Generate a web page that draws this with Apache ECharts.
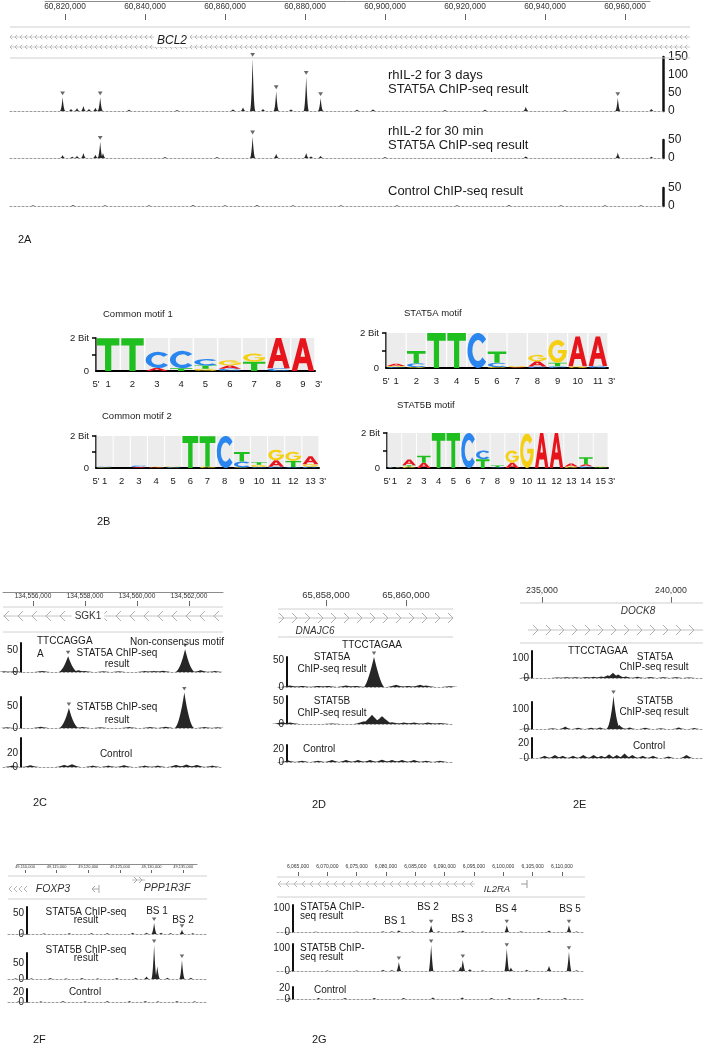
<!DOCTYPE html>
<html><head><meta charset="utf-8">
<script src="https://cdn.jsdelivr.net/npm/echarts@6/dist/echarts.min.js"></script>
<style>html,body{margin:0;padding:0;background:#fff}#c{width:708px;height:1053px}</style>
</head><body><div id="c"></div>
<script>
// ======================= DATA =======================
// ---- 2A : BCL2 locus (chr position, signal, peak-marker flag) ----
const bcl2Ticks = [60820000,60840000,60860000,60880000,60900000,60920000,60940000,60960000];
const bcl2Day3 = [
  [60819400,38,1],[60821500,6,0],[60823000,8,0],[60824600,14,0],[60826000,6,0],[60827600,9,0],
  [60828800,38,1],[60836000,4,0],[60848000,3,0],[60862000,5,0],[60864500,10,0],[60866900,145,1],
  [60869500,6,0],[60872800,55,1],[60876500,5,0],[60880300,95,1],[60883900,36,1],[60893000,4,0],
  [60897000,5,0],[60915000,3,0],[60925000,4,0],[60935200,12,0],[60945000,3,0],[60958200,36,1],[60966600,6,0]
];
const bcl2Min30 = [
  [60819400,8,0],[60821800,4,0],[60823000,6,0],[60824600,14,0],[60827600,9,0],[60828800,45,1],
  [60829500,14,0],[60845000,3,0],[60858000,3,0],[60866900,60,1],[60872800,12,0],[60880300,14,0],
  [60881500,5,0],[60883900,6,0],[60900000,3,0],[60935200,5,0],[60958200,15,0],[60966600,4,0]
];
const bcl2Ctrl = [
  [60812000,2,0],[60822000,3,0],[60830000,2,0],[60841000,2,0],[60852000,3,0],[60860000,2,0],
  [60868000,3,0],[60877000,2,0],[60889000,2,0],[60903000,2,0],[60918000,2,0],[60931000,3,0],
  [60944000,2,0],[60955000,2,0],[60964000,2,0]
];
const bcl2Day3Scale = [0,50,100,150];
const bcl2Min30Scale = [0,50];
const bcl2CtrlScale = [0,50];

// ---- 2B : sequence logos, columns bottom->top as [base, bits] ----
const motifCommon1 = [
  [['T',1.98]], [['T',1.98]], [['A',0.18],['C',0.98]], [['T',0.16],['C',1.06]],
  [['G',0.14],['T',0.2],['C',0.38]], [['C',0.14],['A',0.2],['G',0.3]],
  [['T',0.56],['G',0.5]], [['C',0.16],['A',1.84]], [['A',1.98]]
];
const motifStat5a = [
  [['C',0.06],['G',0.06],['A',0.12]], [['G',0.05],['C',0.22],['T',0.7]], [['T',2.0]], [['T',2.0]],
  [['C',2.0]], [['G',0.06],['C',0.24],['T',0.64]], [['A',0.05],['G',0.06]],
  [['C',0.08],['A',0.3],['G',0.36]], [['C',0.1],['T',0.2],['G',1.3]], [['G',0.1],['A',1.7]], [['C',0.12],['A',1.68]]
];
const motifCommon2 = [
  [['G',0.04],['C',0.04]], [], [['A',0.06],['C',0.1]], [['A',0.04],['G',0.03]], [['C',0.05],['G',0.05]],
  [['T',2.0]], [['G',0.08],['T',1.9]], [['C',2.0]], [['G',0.04],['C',0.36],['T',0.6]],
  [['C',0.06],['G',0.14],['T',0.16]], [['C',0.08],['A',0.4],['G',0.66]], [['C',0.06],['T',0.38],['G',0.58]],
  [['C',0.08],['G',0.16],['A',0.5]]
];
const motifStat5b = [
  [['G',0.03],['C',0.03]], [['G',0.08],['T',0.08],['A',0.32]], [['A',0.3],['T',0.4]], [['T',2.0]], [['T',2.0]],
  [['C',2.0]], [['T',0.5],['C',0.5]], [['C',0.04],['T',0.1]], [['A',0.3],['G',0.7]], [['G',1.96]],
  [['A',2.0]], [['A',2.0]], [['G',0.08],['A',0.18]], [['C',0.1],['A',0.12],['T',0.4]], [['T',0.04],['G',0.03]]
];

// ---- 2C : SGK1 ----
const sgk1Ticks = [134556000,134558000,134560000,134562000];
const sgk1Stat5a = [
  [134554900,1.5,0],[134555300,2,0],[134556350,2.5,0],[134557350,36,1],[134557750,4,0],[134558000,2,0],
  [134558700,1.5,0],[134559300,1.5,0],[134560300,2,0],[134560650,2.5,0],[134561000,3,0],[134561850,52,1],
  [134562450,4,0],[134563000,2,0]
];
const sgk1Stat5b = [
  [134555000,1.5,0],[134556300,3,0],[134557380,45,1],[134557900,2,0],[134558600,1.5,0],[134559700,2,0],
  [134560500,2,0],[134561100,3,0],[134561820,80,1],[134562600,2,0],[134563100,1.5,0]
];
const sgk1Ctrl = [
  [134555200,2,0],[134555900,2.5,0],[134557200,3,0],[134557500,4,0],[134558300,2,0],[134558900,2,0],
  [134559500,2.5,0],[134560300,2,0],[134560800,2,0],[134561500,3,0],[134561900,3.5,0],[134562300,3,0],[134562900,2,0]
];
// ---- 2D : DNAJC6 ----
const dnajTicks = [65858000,65860000];
const dnajStat5a = [
  [65857100,3,0],[65857400,2,0],[65857800,2,0],[65858050,2,0],[65858500,3,0],[65858750,2,0],
  [65859200,56,1],[65859750,4,0],[65860050,2,0],[65860350,4,0],[65860500,3,0],[65861100,1.5,0]
];
const dnajStat5b = [
  [65856900,4,0],[65857100,3,0],[65858150,1,0],[65858950,6,0],[65859150,20,0],[65859400,17,0],
  [65859650,4,0],[65859950,3,0],[65860200,3,0],[65860550,3,0],[65860850,2,0]
];
const dnajCtrl = [
  [65857050,2.5,0],[65857400,2,0],[65857800,2,0],[65858150,3,0],[65858500,3,0],[65858800,3,0],[65859100,3,0],
  [65859400,3.5,0],[65859650,3,0],[65859900,3,0],[65860200,3,0],[65860500,2,0],[65860850,2,0]
];
// ---- 2E : DOCK8 ----
const dockTicks = [235000,240000];
const dockStat5a = [
  [234400,4,0],[235600,3,0],[235950,4,0],[236300,4,0],[236700,5,0],[237000,6,0],[237300,8,0],[237550,14,0],
  [237750,26,0],[237950,18,0],[238250,8,0],[238700,6,0],[239200,5,0],[239700,4,0],[240200,4,0],[240700,3,0]
];
const dockStat5b = [
  [234400,4,0],[235400,4,0],[235900,12,0],[236400,6,0],[236900,6,0],[237250,8,0],[237770,165,1],
  [238000,20,0],[238400,8,0],[239000,6,0],[239600,4,0],[240300,8,0],[240900,5,0]
];
const dockCtrl = [
  [235100,3,0],[235500,4,0],[235800,3,0],[236200,3,0],[236600,4,0],[237000,4,0],[237300,3,0],[237600,5,0],
  [237900,4,0],[238200,6,0],[238500,4,0],[238900,3,0],[239300,3,0],[239900,2,0],[240600,4,0]
];
// ---- 2F : FOXP3 / PPP1R3F ----
const foxTicks = [49110000,49115000,49120000,49125000,49130000,49135000];
const foxStat5a = [
  [49109500,1.5,0],[49113000,1.5,0],[49117000,2,0],[49120500,2,0],[49123000,2,0],[49127000,3,0],
  [49129200,3,0],[49130400,26,1],[49131500,3,0],[49133000,2,0],[49134800,10,1],[49136500,2,0]
];
const foxStat5b = [
  [49108500,2,0],[49111000,2,0],[49114000,3,0],[49116500,2,0],[49119000,3,0],[49121500,2,0],[49124500,3,0],
  [49127500,4,0],[49129200,8,0],[49130400,106,1],[49130900,40,0],[49132500,4,0],[49134800,59,1],[49136200,4,0]
];
const foxCtrl = [
  [49109000,1.5,0],[49112500,1.5,0],[49116000,2,0],[49119500,1.5,0],[49123000,2,0],[49126500,2,0],
  [49129000,2,0],[49131000,1.5,0],[49134000,2,0],[49136800,1.5,0]
];
// ---- 2G : IL2RA ----
const il2Ticks = [6065000,6070000,6075000,6080000,6085000,6090000,6095000,6100000,6105000,6110000];
const il2Stat5a = [
  [6063000,1,0],[6068000,1.5,0],[6075000,1.5,0],[6079500,3,0],[6081000,3,0],[6082200,7,0],[6084500,2,0],
  [6087700,28,1],[6089000,3,0],[6092500,3,0],[6093100,6,0],[6096500,2,0],[6100600,28,1],[6103000,3,0],
  [6107800,6,0],[6111200,28,1],[6112500,2,0]
];
const il2Stat5b = [
  [6064000,2,0],[6070000,2,0],[6075000,2,0],[6079500,5,0],[6081000,4,0],[6082200,39,1],[6087700,113,1],
  [6091500,3,0],[6092700,18,0],[6093100,48,1],[6094300,8,0],[6096500,3,0],[6100600,96,1],[6101300,15,0],
  [6104000,5,0],[6107800,22,0],[6111200,83,1],[6112500,3,0]
];
const il2Ctrl = [
  [6063500,2,0],[6068500,2,0],[6073000,2,0],[6078000,2,0],[6083000,2,0],[6088000,3,0],[6093000,3,0],
  [6098000,2,0],[6101000,2,0],[6106000,2,0],[6110500,2,0]
];

// ======================= BUILD =======================
const FONT = '"Liberation Sans", Arial, Helvetica, sans-serif';
const grids = [], xAxes = [], yAxes = [], series = [], graphics = [];
const fmt = v => Number(v).toLocaleString('en-US');

function addGrid(l, t, w, h) { grids.push({left: l, top: t, width: w, height: h, containLabel: false}); return grids.length - 1; }

function ruler(o) {
  const gi = addGrid(o.left, o.top, o.width, o.height);
  xAxes.push({gridIndex: gi, type: 'value', min: o.min, max: o.max, position: 'top',
    axisLine: {show: !!o.line, onZero: false, lineStyle: {color: '#8c8c8c', width: 1}},
    axisTick: {show: false}, splitLine: {show: false},
    axisLabel: {inside: true, customValues: o.ticks, fontSize: o.fs, fontFamily: FONT, color: '#333',
      margin: o.margin || 1, formatter: fmt}});
  xAxes.push({gridIndex: gi, type: 'value', min: o.min, max: o.max, position: 'bottom',
    axisLine: {show: false, onZero: false}, axisLabel: {show: false}, splitLine: {show: false},
    axisTick: {show: true, inside: true, length: o.tickLen || 5, customValues: o.ticks, lineStyle: {color: '#666', width: 1}}});
  yAxes.push({gridIndex: gi, type: 'value', min: 0, max: 1, show: false});
}

function peakRenderer(hw, pow, mkSize) {
  return function (params, api) {
    const pos = api.value(0), h = api.value(1), mk = api.value(2);
    const pts = [];
    const N = 8;
    for (let i = -N; i <= N; i++) {
      const t = i / N;
      pts.push(api.coord([pos + t * hw, h * Math.pow(1 - Math.abs(t), pow)]));
    }
    const children = [{type: 'polygon', shape: {points: pts}, style: {fill: '#262626'}}];
    if (mk) {
      const top = api.coord([pos, h]);
      const s = mkSize;
      children.push({type: 'polygon', shape: {points: [[top[0] - s, top[1] - 2 - 1.6 * s], [top[0] + s, top[1] - 2 - 1.6 * s], [top[0], top[1] - 2]]},
        style: {fill: '#6a6a6a'}});
    }
    return {type: 'group', children};
  };
}

function track(o) {
  const gi = addGrid(o.left, o.top, o.width, o.height);
  const xi = xAxes.length;
  xAxes.push({gridIndex: gi, type: 'value', min: o.min, max: o.max, position: 'bottom',
    axisLine: {show: true, onZero: false, lineStyle: {color: '#9a9a9a', type: [2, 2], width: 1}},
    axisTick: {show: false}, axisLabel: {show: false}, splitLine: {show: false}});
  const yi = yAxes.length;
  yAxes.push({gridIndex: gi, type: 'value', min: 0, max: o.yMax, position: o.side, offset: o.offset || 0,
    axisLine: {show: true, onZero: false, lineStyle: {color: '#111', width: o.barW || 2}},
    axisTick: {show: false}, splitLine: {show: false},
    axisLabel: {customValues: o.labels, fontSize: o.fs, fontFamily: FONT, color: '#222', margin: o.lm || 3}});
  series.push({type: 'custom', xAxisIndex: xi, yAxisIndex: yi, clip: false, silent: true,
    data: o.peaks, renderItem: peakRenderer(o.hw, o.pow, o.mk || 2.2)});
}

const LETTER_PATH = [
  'M0 100 L38 0 L62 0 L100 100 L76 100 L67 76 L33 76 L24 100 Z M40 56 L60 56 L50 26 Z',        // A
  'M87 18 A48 50 0 1 0 87 82 L70 69 A26 30 0 1 1 70 31 Z',                                       // C
  'M87 18 A48 50 0 1 0 98 55 L98 44 L52 44 L52 58 L76 58 A27 30 0 1 1 70 31 Z',                 // G
  'M0 0 L100 0 L100 22 L64 22 L64 100 L36 100 L36 22 L0 22 Z'                                    // T
];
const LETTER_COLOR = ['#e8141c', '#2a86ee', '#f5cf12', '#1fbf1f'];

function logo(o, cols) {
  const n = cols.length;
  const gi = addGrid(o.left, o.top, o.width, o.height);
  const xi = xAxes.length, yi = yAxes.length;
  const pos = cols.map((c, i) => i + 1);
  xAxes.push({gridIndex: gi, type: 'value', min: 0.5, max: n + 0.5,
    axisLine: {onZero: false, lineStyle: {color: '#000', width: 2}}, axisTick: {show: false}, splitLine: {show: false},
    axisLabel: {customValues: [0.5].concat(pos, [n + 0.5]), fontSize: 9.5, fontFamily: FONT, color: '#222', margin: 8,
      alignMaxLabel: 'left', formatter: v => v === 0.5 ? "5'" : (v === n + 0.5 ? "3'" : String(v))}});
  yAxes.push({gridIndex: gi, type: 'value', min: 0, max: 2,
    axisLine: {onZero: false, lineStyle: {color: '#000', width: 1.5}},
    axisTick: {show: true, length: 4, customValues: [1, 2], lineStyle: {color: '#000', width: 1.5}}, splitLine: {show: false},
    axisLabel: {customValues: [0, 2], fontSize: 9.5, fontFamily: FONT, color: '#222', margin: 7,
      formatter: v => v === 2 ? '2 Bit' : '0'}});
  series.push({type: 'custom', xAxisIndex: xi, yAxisIndex: yi, silent: true, z: 1,
    data: pos.map(p => [p]),
    renderItem: (params, api) => {
      const c = api.value(0);
      const a = api.coord([c - 0.47, 2]), b = api.coord([c + 0.47, 0]);
      return {type: 'rect', shape: {x: a[0], y: a[1], width: b[0] - a[0], height: b[1] - a[1] - 1}, style: {fill: '#ececec'}};
    }});
  const stacks = [];
  cols.forEach((col, i) => { let y = 0; col.forEach(([L, b]) => { stacks.push([i + 1, y, y + b, 'ACGT'.indexOf(L)]); y += b; }); });
  series.push({type: 'custom', xAxisIndex: xi, yAxisIndex: yi, silent: true, z: 3, clip: false,
    data: stacks,
    renderItem: (params, api) => {
      const c = api.value(0), y0 = api.value(1), y1 = api.value(2), li = api.value(3);
      const a = api.coord([c - 0.46, y1]), b = api.coord([c + 0.46, y0]);
      return {type: 'path', shape: {pathData: LETTER_PATH[li], x: a[0], y: a[1], width: b[0] - a[0], height: Math.max(0.3, b[1] - a[1]), layout: 'cover'},
        style: {fill: LETTER_COLOR[li]}};
    }});
  txt(o.title, o.tx, o.ty, {fs: 9.5});
}

function txt(s, x, y, o) {
  o = o || {};
  const style = {text: s, font: (o.italic ? 'italic ' : '') + (o.bold ? 'bold ' : '') + (o.fs || 10) + 'px ' + FONT,
    fill: o.color || '#1a1a1a', align: o.align || 'left', textAlign: o.align || 'left',
    verticalAlign: 'middle', textVerticalAlign: 'middle'};
  if (o.bg) { style.backgroundColor = o.bg; style.padding = [0, 3]; }
  graphics.push({type: 'text', x: x, y: y, z: 100, silent: true, style});
}
function hline(x0, x1, y, color, lw) {
  graphics.push({type: 'line', silent: true, z: 5, shape: {x1: x0, y1: y, x2: x1, y2: y}, style: {stroke: color || '#c8c8c8', lineWidth: lw || 1}});
}
function chevrons(x0, x1, y, step, s, dir, color) {
  for (let x = x0; x <= x1 - s; x += step) {
    const pts = dir === '<' ? [[x + s, y - s], [x, y], [x + s, y + s]] : [[x, y - s], [x + s, y], [x, y + s]];
    graphics.push({type: 'polyline', silent: true, z: 6, shape: {points: pts}, style: {stroke: color || '#b5b5b5', lineWidth: 1, fill: null}});
  }
}

// ---------- 2A ----------
const A_BP = 250; // bp per px
ruler({left: 45, top: 1, width: 605, height: 19, min: 60820000 - 20 * A_BP, max: 60820000 + 585 * A_BP,
  ticks: bcl2Ticks, fs: 8.3, line: true, tickLen: 6, margin: 2});
const aMin = 60820000 - 55 * A_BP, aMax = 60820000 + 598 * A_BP;
track({left: 10, top: 57, width: 653, height: 54, min: aMin, max: aMax, yMax: 150, labels: bcl2Day3Scale,
  side: 'right', fs: 12, lm: 5, barW: 2.5, peaks: bcl2Day3, hw: 700, pow: 2.2, mk: 2.4});
track({left: 10, top: 140, width: 653, height: 18, min: aMin, max: aMax, yMax: 50, labels: bcl2Min30Scale,
  side: 'right', fs: 12, lm: 5, barW: 2.5, peaks: bcl2Min30, hw: 700, pow: 2.2, mk: 2.4});
track({left: 10, top: 188, width: 653, height: 18, min: aMin, max: aMax, yMax: 50, labels: bcl2CtrlScale,
  side: 'right', fs: 12, lm: 5, barW: 2.5, peaks: bcl2Ctrl, hw: 700, pow: 2.2});
hline(10, 690, 27, '#cfcfcf'); hline(10, 690, 58, '#cfcfcf');
hline(10, 690, 37, '#d0d0d0'); hline(10, 690, 47, '#d0d0d0');
chevrons(10, 688, 37, 5, 2.2, '<', '#b8b8b8');
chevrons(10, 688, 47, 5, 2.2, '<', '#b8b8b8');
txt('BCL2', 172, 41, {fs: 12, italic: true, bg: '#fff', align: 'center'});
txt('rhIL-2 for 3 days', 388, 75, {fs: 13});
txt('STAT5A ChIP-seq result', 388, 89, {fs: 13});
txt('rhIL-2 for 30 min', 388, 131, {fs: 13});
txt('STAT5A ChIP-seq result', 388, 145, {fs: 13});
txt('Control ChIP-seq result', 388, 191, {fs: 13});
txt('2A', 18, 240, {fs: 11});

// ---------- 2B ----------
logo({left: 96, top: 338, width: 219, height: 33, title: 'Common motif 1', tx: 103, ty: 314}, motifCommon1);
logo({left: 386, top: 333, width: 222, height: 35, title: 'STAT5A motif', tx: 404, ty: 313}, motifStat5a);
logo({left: 96, top: 436, width: 223, height: 32, title: 'Common motif 2', tx: 102, ty: 416}, motifCommon2);
logo({left: 387, top: 433, width: 221, height: 35, title: 'STAT5B motif', tx: 397, ty: 405}, motifStat5b);
txt('2B', 97, 522, {fs: 11});

// ---------- 2C SGK1 ----------
const C_BP = 38.46;
const cMin = 134556000 - 30 * C_BP, cMax = 134556000 + 190 * C_BP;
ruler({left: 3, top: 592, width: 220, height: 14, min: cMin, max: cMax, ticks: sgk1Ticks, fs: 6.6, line: true, tickLen: 5, margin: 1});
hline(3, 223, 607, '#d0d0d0'); hline(3, 223, 616, '#c4c4c4'); hline(3, 223, 632, '#d0d0d0');
chevrons(4, 223, 616, 14, 5, '<', '#b0b0b0');
txt('SGK1', 88, 616, {fs: 10, bg: '#fff', align: 'center', color: '#333'});
track({left: 3, top: 643, width: 220, height: 29, min: cMin, max: cMax, yMax: 66, labels: [0, 50], side: 'left', offset: -18,
  fs: 10, lm: 3, peaks: sgk1Stat5a, hw: 380, pow: 1.8});
track({left: 3, top: 697, width: 220, height: 31, min: cMin, max: cMax, yMax: 70, labels: [0, 50], side: 'left', offset: -18,
  fs: 10, lm: 3, peaks: sgk1Stat5b, hw: 380, pow: 1.8});
track({left: 3, top: 738, width: 220, height: 29, min: cMin, max: cMax, yMax: 41, labels: [0, 20], side: 'left', offset: -18,
  fs: 10, lm: 3, peaks: sgk1Ctrl, hw: 380, pow: 1.8});
txt('TTCCAGGA', 37, 641, {fs: 10});
txt('A', 37, 654, {fs: 10});
txt('STAT5A ChIP-seq', 117, 653, {fs: 10, align: 'center'});
txt('result', 117, 664, {fs: 10, align: 'center'});
txt('Non-consensus motif', 130, 642, {fs: 10});
txt('STAT5B ChIP-seq', 117, 707, {fs: 10, align: 'center'});
txt('result', 117, 720, {fs: 10, align: 'center'});
txt('Control', 116, 754, {fs: 10, align: 'center'});
txt('2C', 33, 803, {fs: 11});

// ---------- 2D DNAJC6 ----------
const D_BP = 25;
const dMin = 65858000 - 48 * D_BP, dMax = 65858000 + 127 * D_BP;
ruler({left: 278, top: 589, width: 175, height: 17, min: dMin, max: dMax, ticks: dnajTicks, fs: 9.5, line: false, tickLen: 6, margin: 1});
hline(278, 453, 609, '#cfcfcf'); hline(278, 453, 618, '#c4c4c4'); hline(278, 453, 637, '#cfcfcf');
chevrons(279, 453, 618, 13, 5, '>', '#b0b0b0');
txt('DNAJC6', 315, 631, {fs: 10, italic: true, align: 'center', color: '#333'});
track({left: 278, top: 657, width: 175, height: 30, min: dMin, max: dMax, yMax: 56, labels: [0, 50], side: 'left', offset: -9,
  fs: 10, lm: 3, peaks: dnajStat5a, hw: 250, pow: 1.4});
track({left: 278, top: 696, width: 175, height: 28, min: dMin, max: dMax, yMax: 61, labels: [0, 50], side: 'left', offset: -9,
  fs: 10, lm: 3, peaks: dnajStat5b, hw: 250, pow: 1.2});
track({left: 278, top: 745, width: 175, height: 17, min: dMin, max: dMax, yMax: 26, labels: [0, 20], side: 'left', offset: -9,
  fs: 10, lm: 3, peaks: dnajCtrl, hw: 200, pow: 1.4});
txt('TTCCTAGAA', 372, 645, {fs: 10, align: 'center'});
txt('STAT5A', 332, 657, {fs: 10, align: 'center'});
txt('ChIP-seq result', 332, 669, {fs: 10, align: 'center'});
txt('STAT5B', 332, 701, {fs: 10, align: 'center'});
txt('ChIP-seq result', 332, 713, {fs: 10, align: 'center'});
txt('Control', 303, 749, {fs: 10});
txt('2D', 312, 805, {fs: 11});

// ---------- 2E DOCK8 ----------
const E_BP = 38.76;
const eMin = 235000 - 22 * E_BP, eMax = 235000 + 161 * E_BP;
ruler({left: 520, top: 585, width: 183, height: 18, min: eMin, max: eMax, ticks: dockTicks, fs: 8.8, line: false, tickLen: 6, margin: 1});
hline(520, 703, 603, '#cfcfcf'); hline(528, 703, 630, '#c4c4c4'); hline(520, 703, 643, '#cfcfcf');
chevrons(533, 703, 630, 13, 5, '>', '#b0b0b0');
txt('DOCK8', 638, 611, {fs: 10, italic: true, align: 'center', color: '#333'});
track({left: 520, top: 651, width: 183, height: 27, min: eMin, max: eMax, yMax: 135, labels: [0, 100], side: 'left', offset: -12,
  fs: 10, lm: 3, peaks: dockStat5a, hw: 300, pow: 1.5});
track({left: 520, top: 702, width: 183, height: 27, min: eMin, max: eMax, yMax: 135, labels: [0, 100], side: 'left', offset: -12,
  fs: 10, lm: 3, peaks: dockStat5b, hw: 300, pow: 2.2});
track({left: 520, top: 738, width: 183, height: 20, min: eMin, max: eMax, yMax: 27, labels: [0, 20], side: 'left', offset: -12,
  fs: 10, lm: 3, peaks: dockCtrl, hw: 250, pow: 1.5});
txt('TTCCTAGAA', 598, 651, {fs: 10, align: 'center'});
txt('STAT5A', 655, 657, {fs: 10, align: 'center'});
txt('ChIP-seq result', 654, 667, {fs: 10, align: 'center'});
txt('STAT5B', 655, 701, {fs: 10, align: 'center'});
txt('ChIP-seq result', 654, 712, {fs: 10, align: 'center'});
txt('Control', 649, 746, {fs: 10, align: 'center'});
txt('2E', 573, 805, {fs: 11});

// ---------- 2F FOXP3 ----------
const F_BP = 158;
const fMin = 49110000 - 17 * F_BP, fMax = 49110000 + 182 * F_BP;
ruler({left: 17, top: 864, width: 180, height: 9, min: 49110000 - 8 * F_BP, max: 49110000 + 172 * F_BP, ticks: foxTicks, fs: 4, line: true, tickLen: 3, margin: 1});
hline(8, 207, 876, '#d0d0d0'); hline(8, 207, 899, '#d0d0d0');
chevrons(9, 30, 889, 5, 3, '<', '#b5b5b5');
hline(92, 99, 889, '#aaa'); graphics.push({type: 'line', silent: true, shape: {x1: 99, y1: 885, x2: 99, y2: 893}, style: {stroke: '#aaa', lineWidth: 1}});
chevrons(92, 96, 889, 5, 3, '<', '#aaa');
hline(132, 145, 880, '#bbb'); chevrons(134, 145, 880, 5, 3, '>', '#aaa');
txt('FOXP3', 53, 889, {fs: 10.5, italic: true, align: 'center', color: '#333'});
txt('PPP1R3F', 167, 888, {fs: 10.5, italic: true, align: 'center', color: '#333'});
track({left: 8, top: 907, width: 199, height: 27, min: fMin, max: fMax, yMax: 64, labels: [0, 50], side: 'left', offset: -19,
  fs: 10, lm: 3, peaks: foxStat5a, hw: 450, pow: 2});
track({left: 8, top: 953, width: 199, height: 26, min: fMin, max: fMax, yMax: 81, labels: [0, 50], side: 'left', offset: -19,
  fs: 10, lm: 3, peaks: foxStat5b, hw: 450, pow: 2});
track({left: 8, top: 989, width: 199, height: 13, min: fMin, max: fMax, yMax: 26, labels: [0, 20], side: 'left', offset: -19,
  fs: 10, lm: 3, peaks: foxCtrl, hw: 400, pow: 2});
txt('STAT5A ChIP-seq', 86, 912, {fs: 10, align: 'center'});
txt('result', 86, 920, {fs: 10, align: 'center'});
txt('BS 1', 157, 911, {fs: 10, align: 'center'});
txt('BS 2', 183, 920, {fs: 10, align: 'center'});
txt('STAT5B ChIP-seq', 86, 950, {fs: 10, align: 'center'});
txt('result', 86, 958, {fs: 10, align: 'center'});
txt('Control', 85, 992, {fs: 10, align: 'center'});
txt('2F', 33, 1040, {fs: 11});

// ---------- 2G IL2RA ----------
const G_BP = 170.5;
const gMin = 6065000 - 21 * G_BP, gMax = 6065000 + 287 * G_BP;
ruler({left: 277, top: 863, width: 308, height: 13, min: gMin, max: gMax, ticks: il2Ticks, fs: 5, line: false, tickLen: 4, margin: 1});
hline(277, 585, 877, '#d0d0d0'); hline(277, 585, 897, '#d0d0d0'); hline(278, 475, 884, '#c8c8c8');
chevrons(278, 475, 884, 8, 3, '<', '#b5b5b5');
graphics.push({type: 'line', silent: true, shape: {x1: 527, y1: 880, x2: 527, y2: 888}, style: {stroke: '#999', lineWidth: 1}});
hline(521, 527, 884, '#999');
txt('IL2RA', 497, 889, {fs: 9.5, italic: true, align: 'center', color: '#333'});
track({left: 277, top: 905, width: 308, height: 27, min: gMin, max: gMax, yMax: 112, labels: [0, 100], side: 'left', offset: -16,
  fs: 10, lm: 3, peaks: il2Stat5a, hw: 400, pow: 1.5});
track({left: 277, top: 944, width: 308, height: 27, min: gMin, max: gMax, yMax: 117, labels: [0, 100], side: 'left', offset: -16,
  fs: 10, lm: 3, peaks: il2Stat5b, hw: 400, pow: 1.5});
track({left: 277, top: 987, width: 308, height: 12, min: gMin, max: gMax, yMax: 22, labels: [0, 20], side: 'left', offset: -16,
  fs: 10, lm: 3, peaks: il2Ctrl, hw: 400, pow: 1.5});
txt('STAT5A ChIP-', 300, 907, {fs: 10});
txt('seq result', 300, 916, {fs: 10});
txt('BS 1', 395, 921, {fs: 10, align: 'center'});
txt('BS 2', 428, 907, {fs: 10, align: 'center'});
txt('BS 3', 462, 919, {fs: 10, align: 'center'});
txt('BS 4', 506, 909, {fs: 10, align: 'center'});
txt('BS 5', 570, 909, {fs: 10, align: 'center'});
txt('STAT5B ChIP-', 300, 948, {fs: 10});
txt('seq result', 300, 957, {fs: 10});
txt('Control', 314, 990, {fs: 10});
txt('2G', 312, 1040, {fs: 11});

const chart = echarts.init(document.getElementById('c'), null, {renderer: 'canvas'});
chart.setOption({animation: false, backgroundColor: '#fff', grid: grids, xAxis: xAxes, yAxis: yAxes, series: series,
  graphic: {elements: graphics}});
</script>
</body></html>
